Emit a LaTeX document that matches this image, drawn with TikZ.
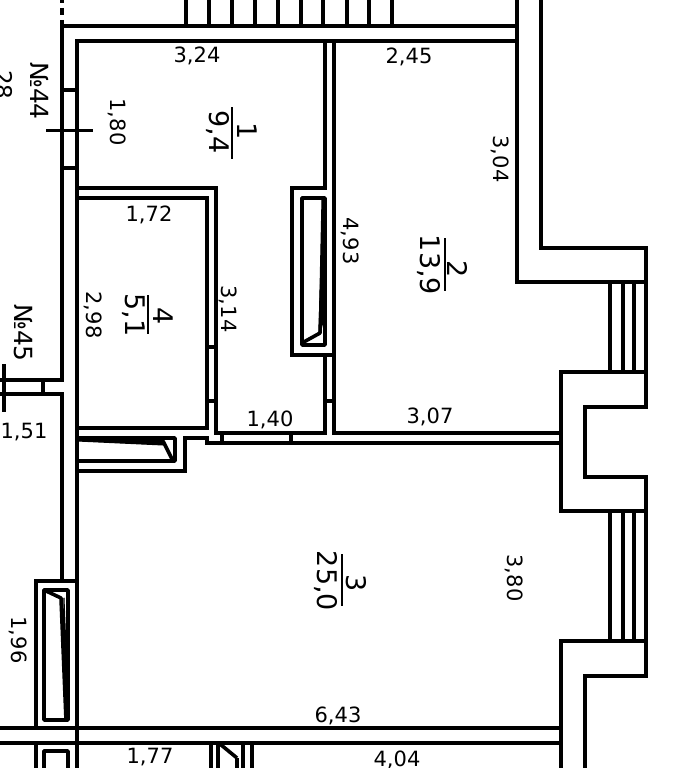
\documentclass[tikz,border=0pt]{standalone}
\usepackage{fontspec}
\setmainfont{DejaVu Sans}
\tikzset{
  wall/.style={line width=4pt,line cap=rect,line join=miter,black},
  thin wall/.style={line width=3.2pt,line cap=butt,black},
  wedge/.style={fill=black,draw=black,line width=1pt,line join=round},
  dim/.style={inner sep=0pt,font=\fontsize{21}{25}\selectfont,text=black},
  rdim/.style={dim,rotate=-90},
  area/.style={rdim,font=\fontsize{27}{32}\selectfont},
  numlabel/.style={rdim,font=\fontsize{25}{30}\selectfont},
  frac/.style={line width=2.4pt,black}
}
\begin{document}
\begin{tikzpicture}[x=1pt,y=-1pt]
\path[use as bounding box,fill=white] (0,0) rectangle (682,768);
\clip (0,0) rectangle (682,768);
% top outer wall and stairs
\draw[wall] (62,380) -- (62,26) -- (517,26);
\draw[wall] (77,768) -- (77,41) -- (517,41);
\foreach \x in {186,209,232,255,278,301,323,347,369,392}
  \draw[thin wall,line width=3.6pt] (\x,0) -- (\x,26);
\draw[thin wall,line width=3.6pt] (62,0) -- (62,3) (62,8) -- (62,15) (62,20) -- (62,26);
% window No 44
\draw[wall,line cap=butt] (62,90) -- (77,90) (62,168) -- (77,168);
\draw[line width=3pt] (46,130) -- (93,130);
% No 45 stub
\draw[wall,line cap=butt] (0,380) -- (64,380) (0,394) -- (64,394);
\draw[wall,line cap=butt] (43,380) -- (43,394);
\draw[line width=3.6pt] (4,364) -- (4,412);
\draw[wall] (62,394) -- (62,581);
% right wall
\draw[wall] (517,0) -- (517,282) -- (646,282);
\draw[wall] (541,0) -- (541,248) -- (646,248) -- (646,407) -- (585,407) -- (585,477) -- (646,477) -- (646,676) -- (585,676) -- (585,768);
\draw[wall] (646,372) -- (561,372) -- (561,511) -- (646,511);
\draw[wall] (646,641) -- (561,641) -- (561,768);
\foreach \x in {610,623,634} {
  \draw[thin wall] (\x,282) -- (\x,372);
  \draw[thin wall] (\x,511) -- (\x,641);
}
% partition rooms 1/2 and niche
\draw[wall] (325,41) -- (325,188) -- (292,188) -- (292,355) -- (334,355);
\draw[wall] (334,41) -- (334,433);
\draw[wall] (325,355) -- (325,433);
\draw[wall,line cap=butt] (325,401) -- (334,401);
\draw[line width=3.6pt,line join=round] (302,198) rectangle (325,345);
\draw[wedge] (325,198) -- (325,316) -- (319,335) -- (322,198) -- cycle;
\draw[line width=3.6pt,line join=round] (325,198) -- (320,333) -- (302,343);
% room 4
\draw[wall] (77,188) -- (216,188) -- (216,433);
\draw[wall] (77,198) -- (207,198) -- (207,428) -- (77,428);
\draw[wall,line cap=butt] (207,347) -- (216,347) (207,401) -- (216,401);
% corridor partition
\draw[wall] (216,433) -- (325,433) (334,433) -- (561,433);
\draw[wall] (207,443) -- (561,443);
\draw[wall] (207,443) -- (207,438) -- (185,438) -- (185,471) -- (77,471);
\draw[thin wall] (222,433) -- (222,443) (291,433) -- (291,443);
% niche room 3 top left
\draw[line width=3.6pt,line join=round] (77,438) -- (175,438) -- (175,461) -- (77,461);
\draw[wedge] (77,437) -- (164,437) -- (163,445) -- (77,441) -- cycle;
\draw[line width=3.6pt,line join=round] (163,441) -- (173,461);
% niche bottom left
\draw[wall] (36,728) -- (36,581) -- (77,581);
\draw[line width=3.6pt,line join=round] (44,590) rectangle (68,720);
\draw[wedge] (64,598) -- (68,700) -- (66,720) -- (63,640) -- cycle;
\draw[line width=3.6pt,line join=round] (44,590) -- (61,598) -- (66,720);
% bottom band
\draw[wall,line cap=butt] (0,728) -- (561,728);
\draw[wall,line cap=butt] (0,743) -- (561,743);
\draw[wall] (36,743) -- (36,768);
\draw[line width=3.6pt,line join=round] (44,780) -- (44,751) -- (68,751) -- (68,780);
\draw[wall] (211,743) -- (211,768);
\draw[wall] (218,743) -- (218,768);
\draw[wall] (237,760) -- (237,768);
\draw[wall] (243,743) -- (243,768);
\draw[wall] (252,743) -- (252,768);
\draw[line width=3.6pt] (220,744) -- (237,758);
% labels
\node[dim] (l324) at (197,56) {3,24};
\node[dim] (l245) at (409,57) {2,45};
\node[dim] (l172) at (149,215) {1,72};
\node[dim] (l140) at (270,420) {1,40};
\node[dim] (l307) at (430,417) {3,07};
\node[dim] (l151) at (24,432) {1,51};
\node[dim] (l643) at (338,716) {6,43};
\node[dim] (l177) at (150,757) {1,77};
\node[dim] (l404) at (397,760) {4,04};
\node[numlabel] (n44) at (40,91) {№44};
\node[numlabel] (n45) at (23,333) {№45};
\node[rdim,font=\fontsize{23}{28}\selectfont] (n28) at (4,85) {28};
\node[rdim] (l180) at (117,122) {1,80};
\node[rdim] (l298) at (93,315) {2,98};
\node[rdim] (l314) at (228,309) {3,14};
\node[rdim] (l493) at (350,241) {4,93};
\node[rdim] (l304) at (500,159) {3,04};
\node[rdim] (l380) at (514,578) {3,80};
\node[rdim] (l196) at (18,640) {1,96};
% room fractions
\draw[frac] (232,107) -- (232,159);
\node[area] (r1) at (247,131) {1};
\node[area] (a1) at (218,132) {9,4};
\draw[frac] (148,295) -- (148,334);
\node[area] (r4) at (163,316) {4};
\node[area] (a4) at (134,315) {5,1};
\draw[frac] (445,238) -- (445,291);
\node[area] (r2) at (458,269) {2};
\node[area] (a2) at (429,265) {13,9};
\draw[frac] (342,554) -- (342,606);
\node[area] (r3) at (356,583) {3};
\node[area] (a3) at (326,581) {25,0};
\end{tikzpicture}
\end{document}
